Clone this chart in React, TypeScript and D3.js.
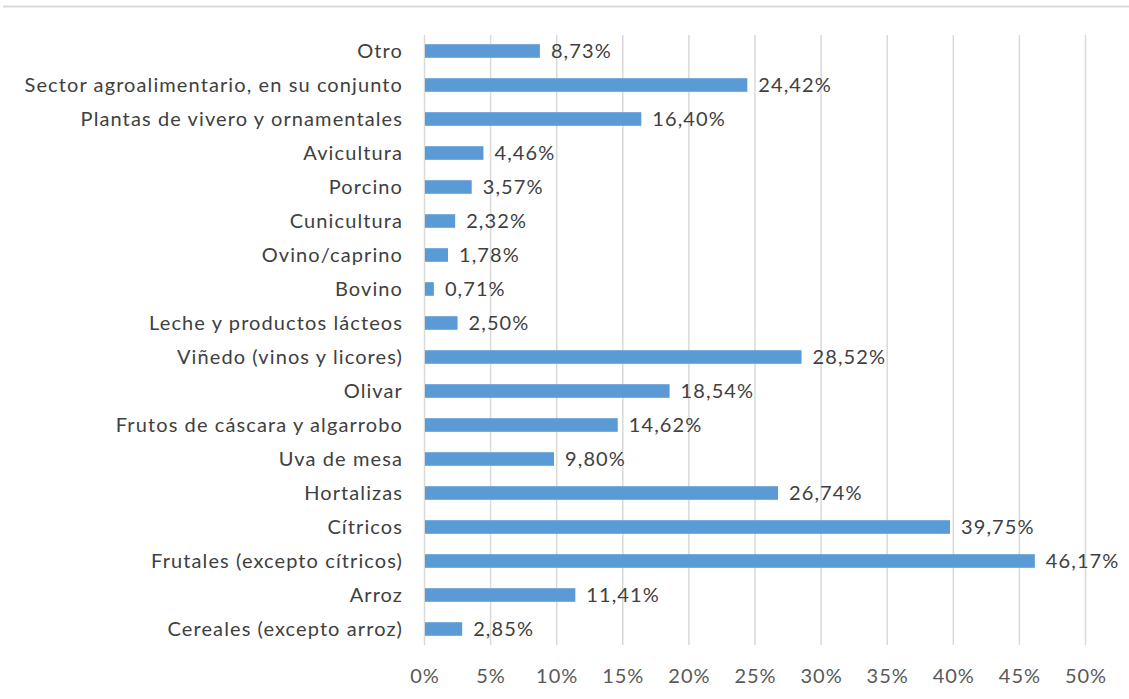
import React, { useEffect, useRef } from 'react';
import * as d3 from 'd3';

const categories = [
  'Otro',
  'Sector agroalimentario, en su conjunto',
  'Plantas de vivero y ornamentales',
  'Avicultura',
  'Porcino',
  'Cunicultura',
  'Ovino/caprino',
  'Bovino',
  'Leche y productos lácteos',
  'Viñedo (vinos y licores)',
  'Olivar',
  'Frutos de cáscara y algarrobo',
  'Uva de mesa',
  'Hortalizas',
  'Cítricos',
  'Frutales (excepto cítricos)',
  'Arroz',
  'Cereales (excepto arroz)',
];

const values = [
  8.73, 24.42, 16.4, 4.46, 3.57, 2.32, 1.78, 0.71, 2.5, 28.52, 18.54, 14.62, 9.8, 26.74, 39.75, 46.17,
  11.41, 2.85,
];

const xTicks = [0, 5, 10, 15, 20, 25, 30, 35, 40, 45, 50];

const WIDTH = 1129;
const HEIGHT = 699;
const FONT = 'Lato, "Open Sans", sans-serif';

export default function App() {
  const svgRef = useRef<SVGSVGElement>(null);

  useEffect(() => {
    if (!svgRef.current) return;
    const svg = d3.select(svgRef.current);
    svg.selectAll('*').remove();

    const x = d3.scaleLinear().domain([0, 50]).range([424.5, 1085.5]);
    const y = d3.scaleBand<string>().domain(categories).range([34, 646]).paddingInner(0.6).paddingOuter(0.3);

    // top border line
    svg.append('line')
      .attr('x1', 3).attr('x2', WIDTH)
      .attr('y1', 6.5).attr('y2', 6.5)
      .attr('stroke', '#d9d9d9')
      .attr('stroke-width', 2);

    // gridlines
    svg.append('g')
      .selectAll('line')
      .data(xTicks)
      .join('line')
      .attr('x1', d => x(d)).attr('x2', d => x(d))
      .attr('y1', 35).attr('y2', 645)
      .attr('stroke', '#d9d9d9')
      .attr('stroke-width', 1.5);

    // tick labels
    svg.append('g')
      .selectAll('text')
      .data(xTicks)
      .join('text')
      .attr('x', d => x(d) + 0.5)
      .attr('y', 683)
      .attr('text-anchor', 'middle')
      .attr('font-family', FONT)
      .attr('font-size', 20)
      .attr('letter-spacing', 1)
      .attr('fill', '#595959')
      .text(d => `${d}%`);

    // category labels
    svg.append('g')
      .selectAll('text')
      .data(categories)
      .join('text')
      .attr('x', 403)
      .attr('y', d => (y(d) ?? 0) + y.bandwidth() / 2)
      .attr('dy', '0.35em')
      .attr('text-anchor', 'end')
      .attr('font-family', FONT)
      .attr('font-size', 20)
      .attr('letter-spacing', 1.1)
      .attr('fill', '#404040')
      .text(d => d);

    // bars
    svg.append('g')
      .selectAll('rect')
      .data(values)
      .join('rect')
      .attr('x', x(0) + 0.5)
      .attr('y', (_, i) => y(categories[i]) ?? 0)
      .attr('width', d => x(d) - x(0) - 0.5)
      .attr('height', y.bandwidth())
      .attr('fill', '#5b9bd5');

    // value labels
    svg.append('g')
      .selectAll('text')
      .data(values)
      .join('text')
      .attr('x', d => x(d) + 11)
      .attr('y', (_, i) => (y(categories[i]) ?? 0) + y.bandwidth() / 2)
      .attr('dy', '0.35em')
      .attr('font-family', FONT)
      .attr('font-size', 20)
      .attr('letter-spacing', 1.1)
      .attr('fill', '#404040')
      .text(d => `${d.toFixed(2).replace('.', ',')}%`);
  }, []);

  return (
    <svg
      ref={svgRef}
      width={WIDTH}
      height={HEIGHT}
      style={{ display: 'block', position: 'absolute', left: 0, top: 0, background: '#fff' }}
    />
  );
}
